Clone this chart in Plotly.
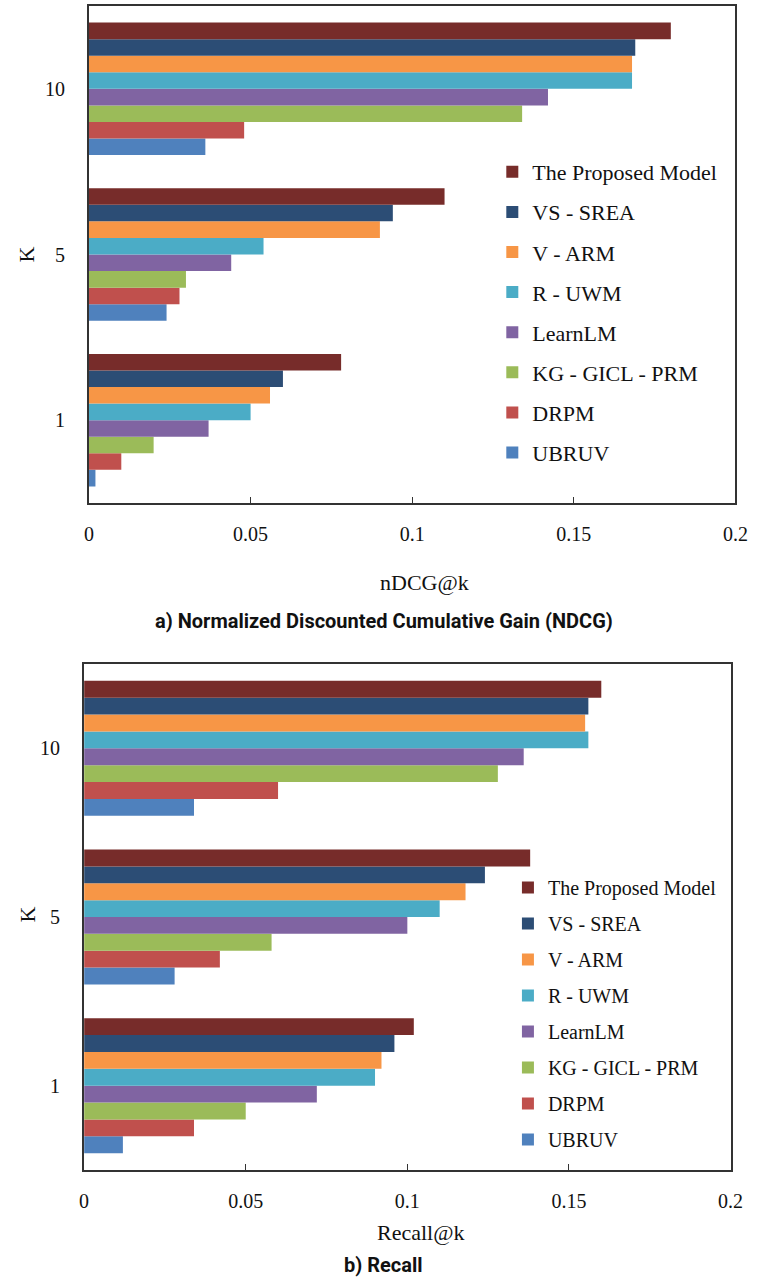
import plotly.graph_objects as go

# Cut-off values K (category axis, bottom to top)
k_values = ["1", "5", "10"]

# Methods, listed bottom-to-top within each group
methods = ["UBRUV", "DRPM", "KG - GICL - PRM", "LearnLM",
           "R - UWM", "V - ARM", "VS - SREA", "The Proposed Model"]
colors = ["#4F81BD", "#C0504D", "#9BBB59", "#8064A2",
          "#4BACC6", "#F79646", "#2C4D75", "#772C2A"]

# nDCG@k per method, ordered as k_values (1, 5, 10)
ndcg_ubruv = [0.002, 0.024, 0.036]
ndcg_drpm = [0.010, 0.028, 0.048]
ndcg_kg = [0.020, 0.030, 0.134]
ndcg_learnlm = [0.037, 0.044, 0.142]
ndcg_ruwm = [0.050, 0.054, 0.168]
ndcg_varm = [0.056, 0.090, 0.168]
ndcg_vssrea = [0.060, 0.094, 0.169]
ndcg_proposed = [0.078, 0.110, 0.180]

# Recall@k per method, ordered as k_values (1, 5, 10)
recall_ubruv = [0.012, 0.028, 0.034]
recall_drpm = [0.034, 0.042, 0.060]
recall_kg = [0.050, 0.058, 0.128]
recall_learnlm = [0.072, 0.100, 0.136]
recall_ruwm = [0.090, 0.110, 0.156]
recall_varm = [0.092, 0.118, 0.155]
recall_vssrea = [0.096, 0.124, 0.156]
recall_proposed = [0.102, 0.138, 0.160]

ndcg_series = [ndcg_ubruv, ndcg_drpm, ndcg_kg, ndcg_learnlm,
               ndcg_ruwm, ndcg_varm, ndcg_vssrea, ndcg_proposed]
recall_series = [recall_ubruv, recall_drpm, recall_kg, recall_learnlm,
                 recall_ruwm, recall_varm, recall_vssrea, recall_proposed]

x_ticks = [0, 0.05, 0.1, 0.15, 0.2]
x_tick_text = ["0", "0.05", "0.1", "0.15", "0.2"]

W, H = 768, 1279
SERIF = "Liberation Serif"
CAPTION = "Roboto"


def px_x(p):
    return p / W


def px_y(p):
    return (H - p) / H


fig = go.Figure()

n = len(methods)
for i, name in enumerate(methods):
    fig.add_trace(go.Bar(
        y=k_values, x=ndcg_series[i], orientation="h", name=name,
        marker=dict(color=colors[i], line=dict(width=0)),
        xaxis="x", yaxis="y", legend="legend",
        legendgroup="a" + str(i), legendrank=n - i,
    ))
for i, name in enumerate(methods):
    fig.add_trace(go.Bar(
        y=k_values, x=recall_series[i], orientation="h", name=name,
        marker=dict(color=colors[i], line=dict(width=0)),
        xaxis="x2", yaxis="y2", legend="legend2",
        legendgroup="b" + str(i), legendrank=n - i,
    ))


def axis_style():
    return dict(
        showline=True, mirror=True, linecolor="#333333", linewidth=2,
        showgrid=False, zeroline=False,
        tickfont=dict(family=SERIF, size=20, color="#111111"),
    )


fig.update_layout(
    width=W, height=H,
    margin=dict(l=0, r=0, t=0, b=0),
    font=dict(family=SERIF, size=20, color="#111111"),
    paper_bgcolor="white", plot_bgcolor="white",
    barmode="group", bargap=0.2, bargroupgap=0,
    xaxis=dict(domain=[px_x(86), px_x(748)], anchor="y", range=[0, 0.2],
               tickvals=x_ticks, ticktext=x_tick_text,
               ticks="inside", ticklen=6, tickcolor="#333333",
               ticklabelstandoff=12, **axis_style()),
    yaxis=dict(domain=[px_y(503), px_y(6)], anchor="x", type="category",
               categoryorder="array", categoryarray=k_values,
               ticks="", ticklabelstandoff=18, **axis_style()),
    xaxis2=dict(domain=[px_x(81), px_x(743)], anchor="y2", range=[0, 0.2],
                tickvals=x_ticks, ticktext=x_tick_text,
                ticks="inside", ticklen=6, tickcolor="#333333",
                ticklabelstandoff=12, **axis_style()),
    yaxis2=dict(domain=[px_y(1170), px_y(664)], anchor="x2", type="category",
                categoryorder="array", categoryarray=k_values,
                ticks="", ticklabelstandoff=18, **axis_style()),
    legend=dict(
        x=px_x(499), y=px_y(151), xanchor="left", yanchor="top",
        traceorder="grouped", tracegroupgap=8.5, bgcolor="rgba(0,0,0,0)",
        font=dict(family=SERIF, size=22, color="#111111"),
        itemwidth=30,
    ),
    legend2=dict(
        x=px_x(515), y=px_y(868), xanchor="left", yanchor="top",
        traceorder="grouped", tracegroupgap=7, bgcolor="rgba(0,0,0,0)",
        font=dict(family=SERIF, size=20, color="#111111"),
        itemwidth=30,
    ),
    showlegend=True,
)

annotations = [
    dict(text="nDCG@k", x=px_x(430), y=px_y(582), font=dict(family=SERIF, size=22)),
    dict(text="K", x=px_x(21), y=px_y(255), textangle=-90, font=dict(family=SERIF, size=22)),
    dict(text="<b>a) Normalized Discounted Cumulative Gain (NDCG)</b>", x=px_x(388), y=px_y(621),
         font=dict(family=CAPTION, size=20)),
    dict(text="Recall@k", x=px_x(425), y=px_y(1232), font=dict(family=SERIF, size=22)),
    dict(text="K", x=px_x(23), y=px_y(914), textangle=-90, font=dict(family=SERIF, size=22)),
    dict(text="<b>b) Recall</b>", x=px_x(388), y=px_y(1265),
         font=dict(family=CAPTION, size=20)),
]
for a in annotations:
    a.update(xref="paper", yref="paper", showarrow=False,
             xanchor="center", yanchor="middle")
    a["font"]["color"] = "#111111"
fig.update_layout(annotations=annotations)

fig.write_html("out.html")
